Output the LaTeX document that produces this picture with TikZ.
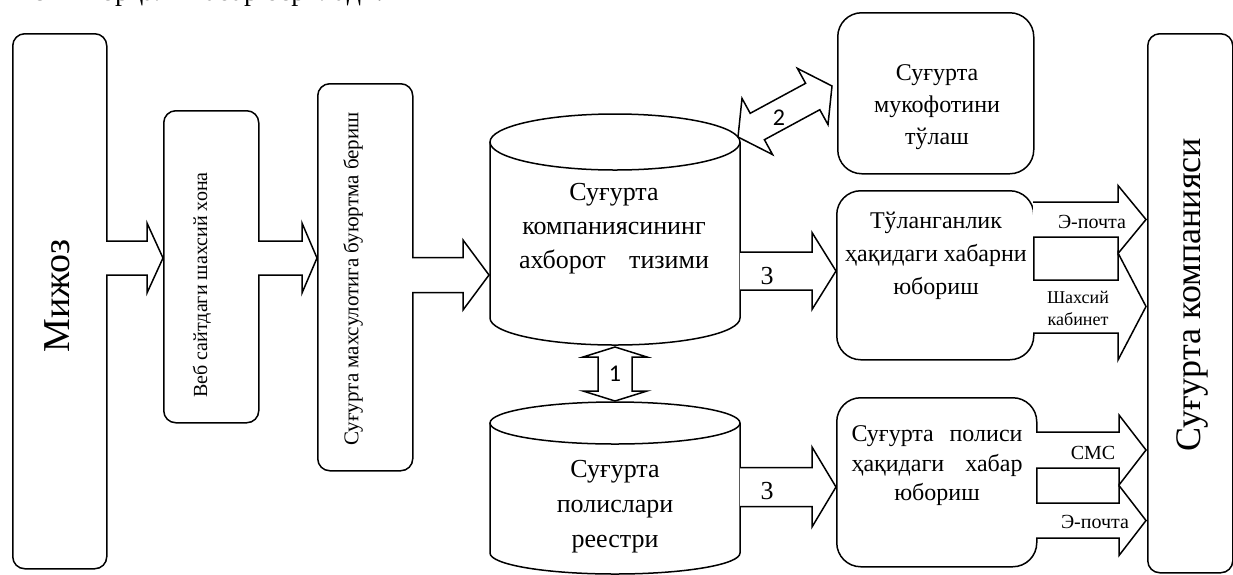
\documentclass[tikz,border=0pt]{standalone}
\usepackage{fontspec}
\setmainfont{Liberation Serif}
\newfontfamily\calfont{Carlito}
\usetikzlibrary{calc}
% right-pointing block arrow: x1, xtip, xbase, yc, shaft half, head half
\newcommand\rblk[6]{%
  \draw[blk] (#1,{#4-#5}) -- (#3,{#4-#5}) -- (#3,{#4-#6}) -- (#2,#4) -- (#3,{#4+#6}) -- (#3,{#4+#5}) -- (#1,{#4+#5});}
\begin{document}
\begin{tikzpicture}[x=1pt,y=-1pt,
  box/.style={draw, line width=1.5pt, fill=white, inner sep=0pt, rounded corners=12pt},
  bigbox/.style={box, rounded corners=24pt},
  blk/.style={draw, fill=white, line width=1.5pt, line join=miter},
  cyl/.style={draw, fill=white, line width=1.5pt},
  txt/.style={inner sep=0pt, align=center},
  lab/.style={inner sep=0pt}]
\useasboundingbox (0,0) rectangle (1233,574);
\clip (0,0) rectangle (1233,574);

% cut-off line of text at top
\node[lab, anchor=base west, font=\fontsize{28}{30}\selectfont] (topline) at (8,0) {тизими орқали хабар берилади.};

% left boxes
\node[box, anchor=north west, minimum width=94pt, minimum height=535pt] (mij) at (12,33) {};
\node[txt, rotate=90, font=\fontsize{38}{40}\selectfont] (mijt) at (57,296) {Мижоз};

\node[box, anchor=north west, minimum width=95pt, minimum height=312pt] (veb) at (163,110) {};
\node[txt, rotate=90, font=\fontsize{20}{24}\selectfont] (vebt) at (202,285) {Веб сайтдаги шахсий хона};

\node[box, anchor=north west, minimum width=95pt, minimum height=387pt] (mah) at (317,83) {};
\node[txt, rotate=90, font=\fontsize{21}{24}\selectfont] (maht) at (353,279) {Суғурта махсулотига буюртма бериш};

% block arrows between left boxes
\rblk{106}{163}{147}{258}{17}{35}
\rblk{258}{317}{302}{258}{17}{35}
\rblk{412}{489}{463}{275}{17.5}{35}

% cylinder 1
\draw[cyl] (490,142) -- (490,318) arc[start angle=180, end angle=360, x radius=125pt, y radius=27pt] -- (740,142);
\draw[cyl] (615,142) ellipse[x radius=125pt, y radius=28pt];
\node[txt, font=\fontsize{26}{34}\selectfont] (cyl1) at (614,229) {%
  Суғурта\\компаниясининг\\\makebox[190pt][s]{ахборот тизими}};

% cylinder 2
\draw[cyl] (490,423) -- (490,553) arc[start angle=180, end angle=360, x radius=125pt, y radius=21pt] -- (740,423);
\draw[cyl] (615,423) ellipse[x radius=125pt, y radius=21pt];
\node[txt, font=\fontsize{26}{35}\selectfont] (cyl2) at (615,507) {Суғурта\\полислари\\реестри};

% double arrow 1 (vertical)
\draw[blk] (615,347) -- (647,357) -- (632,357) -- (632,391) -- (647,391) -- (615,401)
  -- (583,391) -- (598,391) -- (598,357) -- (583,357) -- cycle;
\node[lab, font=\calfont\fontsize{24}{26}\selectfont] (one) at (615,374) {1};

% double arrow 2 (diagonal)
\draw[blk] (738,137) -- (742,98.4) -- (750.2,113.3) -- (805.6,83.3) -- (797.4,68.4) -- (832,86)
  -- (828,124.6) -- (819.8,109.7) -- (764.4,139.7) -- (772.6,154.6) -- cycle;
\node[lab, font=\calfont\fontsize{24}{26}\selectfont] (two) at (779,118) {2};

% arrows 3
\rblk{740}{836}{812}{271}{19}{38.5}
\rblk{740}{836}{812}{487}{19.5}{40}
\node[lab, font=\fontsize{26}{28}\selectfont] (three1) at (767,276) {3};
\node[lab, font=\fontsize{26}{28}\selectfont] (three2) at (767,491) {3};

% right-middle boxes
\node[bigbox, anchor=north west, minimum width=196pt, minimum height=161pt] (muk) at (837,12) {};
\node[txt, font=\fontsize{24}{32}\selectfont] (mukt) at (937,107) {Суғурта\\мукофотини\\тўлаш};

\node[bigbox, anchor=north west, minimum width=197pt, minimum height=169pt] (tul) at (836,190) {};
\node[txt, font=\fontsize{24}{33}\selectfont] (tult) at (936,256) {Тўланганлик\\ҳақидаги хабарни\\юбориш};

\node[bigbox, anchor=north west, minimum width=200pt, minimum height=169pt] (pol) at (836,397) {};
\node[txt, font=\fontsize{24}{29.5}\selectfont] (polt) at (937,466) {%
  \makebox[171pt][s]{Суғурта полиси}\\\makebox[171pt][s]{ҳақидаги хабар}\\юбориш};

% right box
\node[box, anchor=north west, minimum width=85pt, minimum height=539pt] (kom) at (1147,33) {};
\node[txt, rotate=90, font=\fontsize{36}{40}\selectfont] (komt) at (1192,295) {Суғурта компанияси};

% output arrows
\rblk{1033}{1146}{1118}{219.5}{17.5}{34}
\rblk{1033}{1146}{1118}{306.5}{26.5}{53.5}
\rblk{1036}{1146}{1119}{450}{18}{35}
\rblk{1036}{1146}{1119}{520.5}{17.5}{35}
\node[lab, font=\fontsize{20}{22}\selectfont] (ep1) at (1092,222) {Э-почта};
\node[txt, font=\fontsize{18}{22}\selectfont] (shk) at (1078,308) {Шахсий\\кабинет};
\node[lab, font=\fontsize{20}{22}\selectfont] (sms) at (1093,453) {СМС};
\node[lab, font=\fontsize{20}{22}\selectfont] (ep2) at (1095,522) {Э-почта};
\end{tikzpicture}
\end{document}
